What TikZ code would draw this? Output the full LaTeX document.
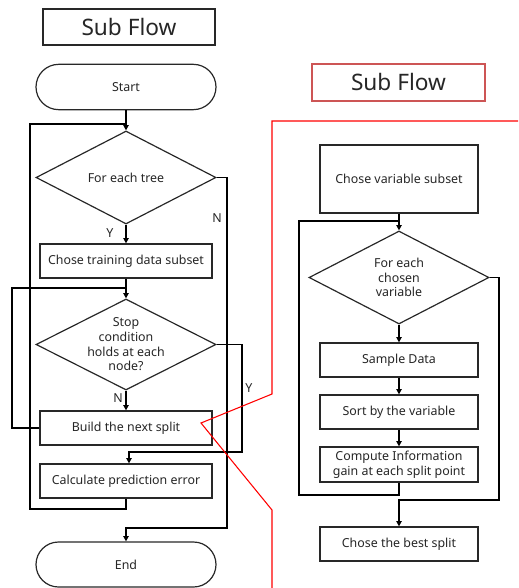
\documentclass[tikz,border=0pt]{standalone}
\usepackage{fontspec}
\setmainfont{Noto Sans}
\usetikzlibrary{shapes.geometric,shapes.misc,arrows.meta}
\definecolor{boxline}{RGB}{40,40,40}
\definecolor{titlered}{RGB}{205,85,85}
\begin{document}
\begin{tikzpicture}[x=0.75pt,y=-0.75pt,
  every node/.style={font=\fontsize{9.3}{11}\selectfont, text=black!85},
  box/.style={draw=boxline, line width=0.9pt, rectangle, inner sep=0pt, align=center},
  term/.style={draw=boxline, line width=0.9pt, rounded rectangle, minimum width=135pt, minimum height=34pt, inner sep=0pt},
  dia/.style={draw=boxline, line width=0.9pt, diamond, inner sep=0pt, minimum width=135pt},
  ttl/.style={box, font=\fontsize{17}{19}\selectfont},
  conn/.style={line width=1pt, black},
  arr/.style={conn, -{Triangle[length=4pt,width=4pt]}},
  lab/.style={font=\fontsize{9.3}{11}\selectfont, inner sep=0pt},
  redline/.style={red, line width=0.8pt}
]
\useasboundingbox (0,0) rectangle (518,588);

% ---------- left flow ----------
\node[ttl, minimum width=129pt, minimum height=27pt] (title1) at (129,27) {Sub Flow};
\node[term] (start) at (126,87) {Start};
\node[dia, minimum height=69.75pt] (d1) at (126,177.5) {};
\node[align=center] (d1t) at (d1.center) {For each tree};
\node[box, minimum width=129pt, minimum height=25.5pt] (b1) at (126,261) {Chose training data subset};
\node[dia, minimum height=68.25pt] (d2) at (126,344.5) {};
\node[align=center] (d2t) at (d2.center) {Stop\\condition\\holds at each\\node?};
\node[box, minimum width=129pt, minimum height=25.5pt] (build) at (126,428) {Build the next split};
\node[box, minimum width=129pt, minimum height=25.5pt] (calc) at (126,481) {Calculate prediction error};
\node[term, minimum height=33.75pt] (end) at (126,564.5) {End};

\draw[arr] (start.south) -- (d1.north);
\draw[conn] (calc.south) -- (126,509) -| (30,124) -- (126,124);
\draw[arr] (d1.east) -| (227,528) -| (end.north);
\node[lab] (n1) at (217,218) {N};
\draw[arr] (d1.south) -- (b1.north);
\node[lab] (y1) at (110,233) {Y};
\draw[arr] (b1.south) -- (d2.north);
\draw[conn] (build.west) -| (12,288) -- (126,288);
\draw[arr] (d2.south) -- (build.north);
\node[lab] (n2) at (118,398) {N};
\draw[arr] (d2.east) -| (242,452) -| ([xshift=2.25pt]calc.north);
\node[lab] (y2) at (249,388) {Y};

% ---------- red zoom lines ----------
\coordinate (rp) at (201,423);
\draw[redline] (518,121) -- (272,121) -- (272,394) -- (rp) -- (272,510) -- (272,588);

% ---------- right flow ----------
\node[ttl, draw=titlered, minimum width=129.75pt, minimum height=27.75pt] (title2) at (398.5,82.5) {Sub Flow};
\node[box, minimum width=118.5pt, minimum height=51pt] (v1) at (399,179) {Chose variable subset};
\node[dia, minimum height=69.75pt] (d3) at (399,277.5) {};
\node[align=center] (d3t) at (d3.center) {For each\\chosen\\variable};
\node[box, minimum width=118.5pt, minimum height=25.5pt] (samp) at (399,360) {Sample Data};
\node[box, minimum width=118.5pt, minimum height=25.5pt] (sort) at (399,412) {Sort by the variable};
\node[box, minimum width=118.5pt, minimum height=26.25pt] (comp) at (399,464.5) {Compute Information\\gain at each split point};
\node[box, minimum width=118.5pt, minimum height=25.5pt] (best) at (399,544) {Chose the best split};

\draw[arr] (v1.south) -- (d3.north);
\draw[conn] (comp.south) -- (399,495) -| (299,221) -- (399,221);
\draw[arr] (d3.south) -- (samp.north);
\draw[arr] (samp.south) -- (sort.north);
\draw[arr] (sort.south) -- (comp.north);
\draw[arr] (d3.east) -| (499,500) -| (best.north);
\end{tikzpicture}
\end{document}
